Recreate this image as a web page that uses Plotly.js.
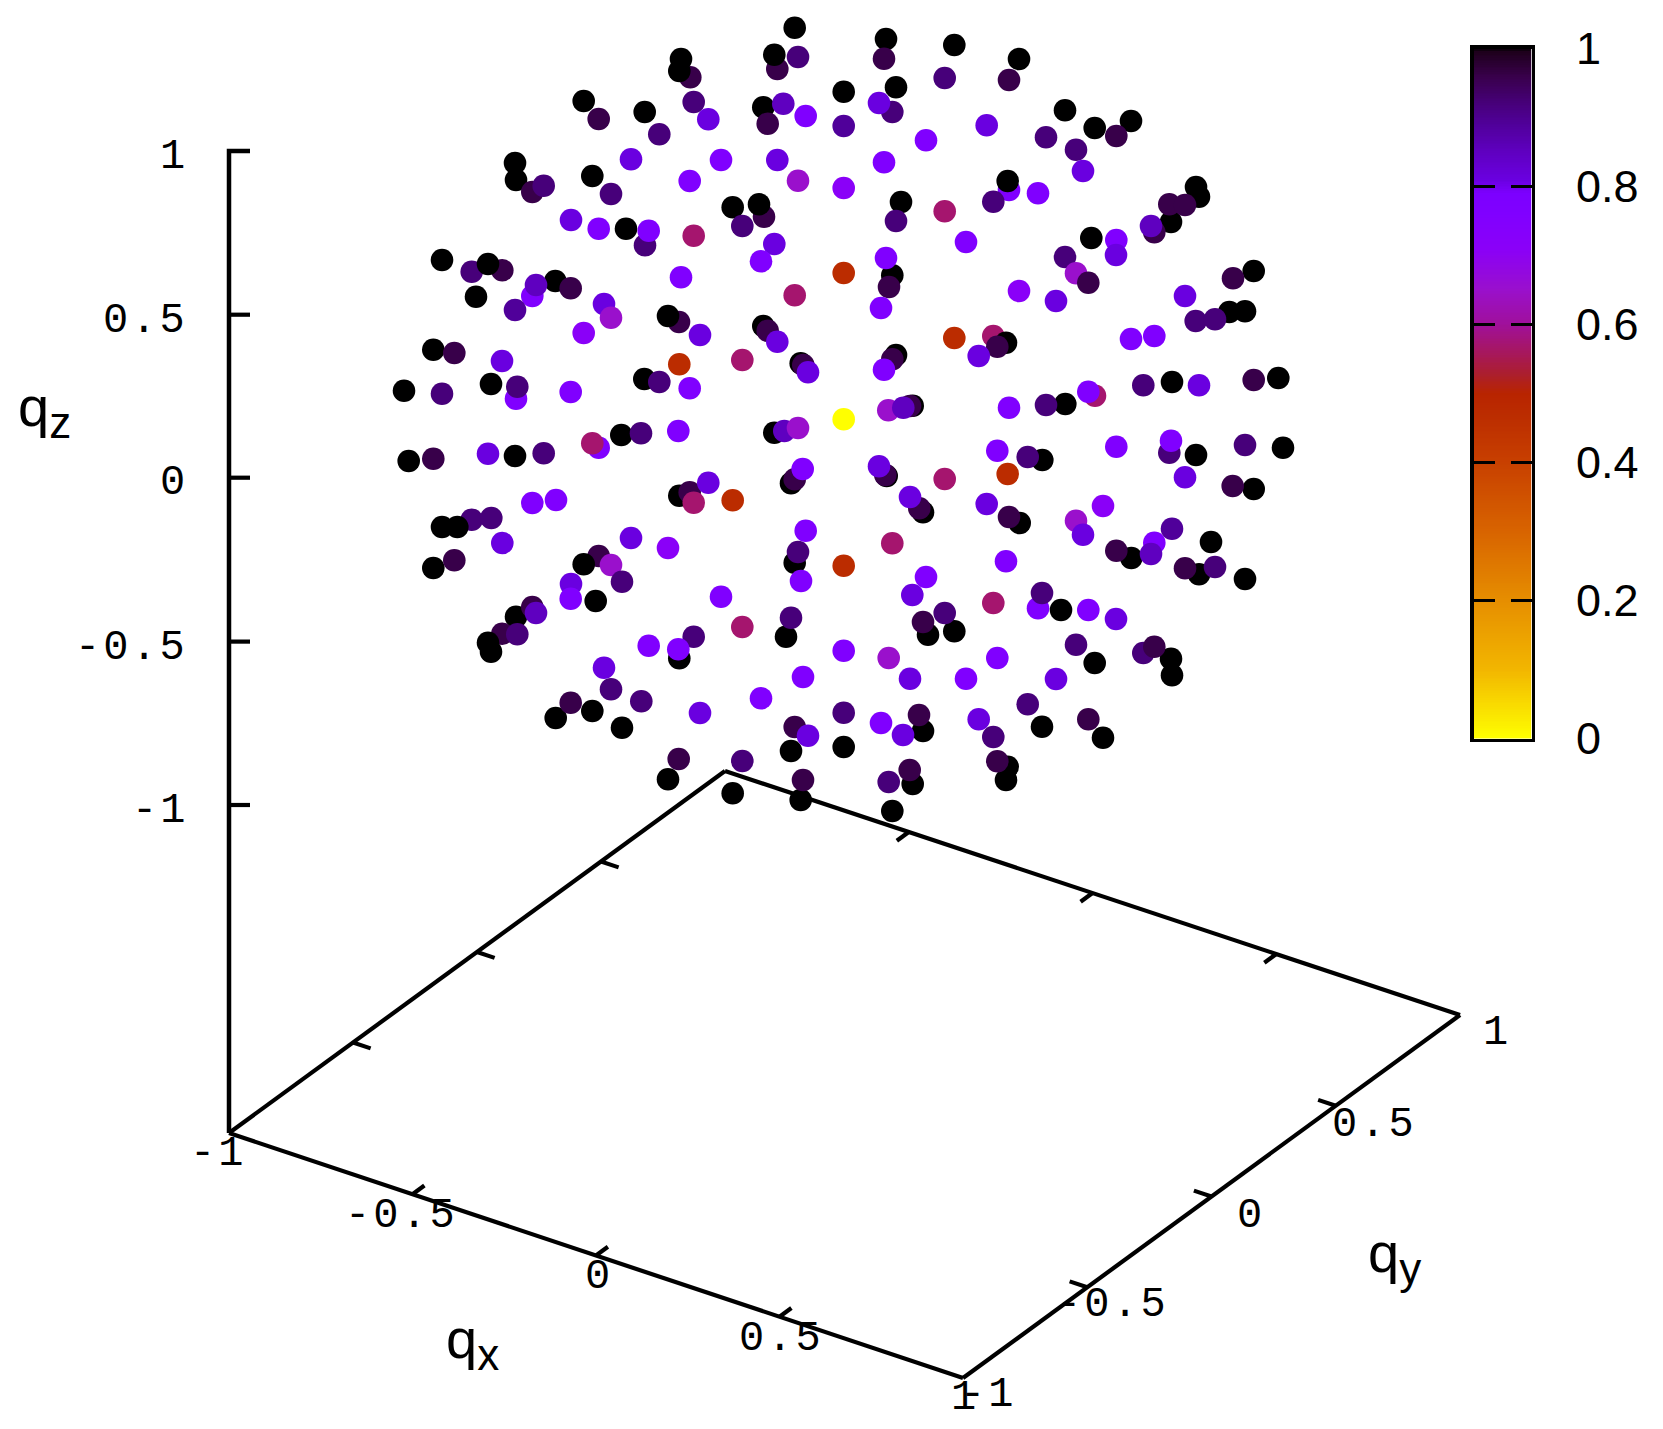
<!DOCTYPE html>
<html>
<head>
<meta charset="utf-8">
<script src="https://cdn.plot.ly/plotly-3.0.1.min.js"></script>
<style>html,body{margin:0;padding:0;background:#fff}#chart{width:1663px;height:1429px}</style>
</head>
<body>
<div id="chart"></div>
<script>
// Projected position of each q-point on the picture plane, grouped by colour value, in drawing order.
const lowDark=[[598.7,556]];
const lowBlack=[[583.7,564.3]];
const lowIndigo=[[1065,257],[1143.3,653]];
const lowRose=[[993.3,336],[1095,395.7]];
const lowMagenta=[[611,565],[888.3,410.3],[1076,273.3],[1076,520.7]];
const lowViolet=[[1009,190],[532.3,296],[516,398.7],[1116.3,240],[1154.3,542.7],[1038,608.3]];
const blackPts=[[794.7,27.7],[763.3,107.3],[583.7,101],[644.7,112],[515,163],[516,180],[592.3,176],[626,228.7],[732.7,207.3],[442,260],[476,296.7],[555.3,281],[763.3,326],[644.3,379],[433.3,349.7],[404,390.7],[491,384],[800.7,363.3],[621.3,435],[774.3,432.7],
[886,39],[954.3,45],[1019,59],[843.7,91.7],[896,87.3],[1065,110.3],[1094.7,128],[1131,121],[901,202],[1196,187],[1199,196.7],[1171,222],[1091.3,238],[892.3,275.3],[1253.7,271],[1229.3,312],[1245,311.3],[1006,342.7],[896,355],[1278.3,378],[1172,382],[1065.3,404],[912.7,405.7],
[408.7,461],[515,456],[791,483.3],[679.3,495.7],[442,527],[433.3,568],[794.7,562.7],[595.7,601],[786,636.7],[516,616.7],[679.3,658.3],[555.7,718],[592.3,711],[622,727.7],[791,751],[668,779.3],[732.7,793.3],[800.7,800],
[1042.3,460],[1196,455],[1283,447.7],[1253.7,489],[886.7,476],[923,512.3],[1019.7,523],[1131.3,558],[1211,542],[1199,574.3],[1245,579],[928,634.7],[954.3,631.3],[1061,610],[1094.7,663],[1171,658.7],[1172,675.3],[923,731],[1042,726.7],[1103,737.7],[843.7,747],[912.7,784],[1007.7,766.7],[1006,780],[892.3,811]];
const darkPts=[[777.3,69],[690.3,77.3],[767.7,123.7],[598.7,119],[532.3,192],[764,216.7],[502.3,270.3],[570.7,288.3],[679,322],[767.7,330.7],[454.3,353],[803.3,365],
[884,58.7],[1009,80],[1116.3,136],[1169.3,204.3],[1185,205],[1154.3,232.3],[1088.3,282.7],[889,287],[1233,278.3],[997.3,346.7],[892.3,359.3],[1253.7,380],[910,406],
[433.3,458.7],[794.7,479.3],[689.7,492.3],[454.3,560.3],[532.3,607],[502.3,633.7],[570.7,702.7],[794.7,727],[678.7,759],[803,780],
[1232.7,486],[885.3,475],[919.3,508.3],[1009,517],[1116.3,550.7],[1185,568.3],[923,622],[1154.3,646.7],[919,715],[1088.3,719.3],[909.7,770],[997.3,761.3]];
const indigoPts=[[798,57],[693.7,102],[659.3,134.3],[543.7,185.7],[611,194],[645,245.3],[742.3,226],[471.7,271.7],[659.3,382],[442,393.7],[517.3,386.7],[641,433.3],
[944.7,78],[892.3,112],[1046,137.3],[1076,149.7],[993.3,201.7],[896,221],[1195.7,321],[1215,319.3],[1143.3,385.3],[1046,405],
[543.7,453.3],[471.7,519.7],[491.3,518],[798,552],[622,581.7],[791,617.7],[517.3,634.3],[693.7,636.7],[611,689.3],[641.3,701.3],[742.3,761],
[1027.7,457],[1169.3,452.7],[1245,445],[1215,567],[944.7,613],[1042,593],[1076,644.7],[843.7,712.7],[993.3,737],[1027.7,704.3],[888.7,782]];
const indigoLightPts=[[515,310],[843.7,126],[1172,528.7]];
const blackTopPts=[[774.3,54.7],[681,59],[679.3,71],[488,264],[668,316],[759,204.3],[1007.7,181],[457.3,527],[488,642.7],[491,651.7]];
const deepVioletPts=[[783.3,103.7],[536,285],[784.3,431],[1151,226],[903.3,407.7],[536,613],[1151,554]];
const violetPts=[[708.3,119.3],[631,159.3],[777.3,160],[571,220],[774.3,244],[604,304],[700,335],[777.3,341.7],[502,361],[808,372.3],
[879,103],[986.7,125.3],[1083,171],[1116,255],[1056,301],[1185,296],[978.7,356],[1199,385.3],
[488,453.7],[708.3,482.7],[502.3,543],[631,538],[571,584],[604,667.7],[700,713],[808,735.7],
[1185,477.3],[879,466.3],[910,497],[986.7,504],[1083,534.7],[912.3,595],[1116,619],[910,678.7],[1056,679],[903,735],[978.7,719.3]];
const brightPts=[[721,160],[689.7,181],[598.7,228.7],[648.7,230.7],[761,261.3],[681,277.3],[689.7,388.3],[570.7,392],[678.3,431],[805.7,116],
[926,140.3],[884,162.3],[1038,193.3],[966,242],[886,258],[881,308],[1131,339],[1154.3,336],[884,369.7],[1088.3,391.7],[1009,407.7],
[532.3,503],[556,500],[805.7,530.7],[801,581],[570.7,598.7],[721,596.7],[648.7,645.7],[678.3,649.3],[803,677],[761,698.3],[598.7,447.7],[802.7,469],
[997.3,450.7],[1116.3,446.7],[1171,440.7],[926,577],[1006,561.3],[1088.3,610],[843.7,650.7],[966,678.7],[997.3,658],[881,723]];
const purplePts=[[583.7,333],[843.7,188],[1019,291],[668,548],[1103,506]];
const magentaPts=[[798,180.7],[611,317.7],[798,428],[888.7,658]];
const rosePts=[[693.7,235.7],[794.7,295.3],[742.3,360],[944.7,211.3],[592.3,443.3],[693.7,502.7],[742.3,627],[944.7,479],[892.3,543.3],[993.3,603]];
const orangePts=[[679.3,364.3],[843.7,273],[954.3,338],[732.7,500.3],[1007.7,474],[843.7,565.7]];
const yellowPts=[[843.7,419.3]];

const groups=[[lowDark,0.96],[lowBlack,1],[lowIndigo,0.92],[lowRose,0.57],[lowMagenta,0.65],[lowViolet,0.76],
[blackPts,1],[darkPts,0.96],[indigoPts,0.92],[indigoLightPts,0.89],[blackTopPts,1],[deepVioletPts,0.85],[violetPts,0.81],
[brightPts,0.76],[purplePts,0.71],[magentaPts,0.65],[rosePts,0.57],[orangePts,0.47],[yellowPts,0]];

const paletteStops=[[0,'#ffff00'],[0.1,'#f2b600'],[0.2,'#e68e00'],[0.3,'#d86400'],[0.4,'#c84000'],[0.47,'#bb2c00'],[0.5,'#b82400'],[0.53,'#ab1e30'],[0.57,'#a5156e'],[0.6,'#a0109a'],[0.65,'#9a10cc'],[0.71,'#8a00f8'],[0.76,'#8000ff'],[0.79,'#7c00ff'],[0.81,'#6a00e0'],[0.85,'#5f00c0'],[0.89,'#50009a'],[0.92,'#47007a'],[0.96,'#38004a'],[0.995,'#1e001c'],[1,'#000000']];

// Base frame and vertical axis of the 3D box, as projected on the picture plane.
const cornerFront=[229,1133], cornerBack=[725,771], cornerRight=[1460,1015], cornerBottom=[963,1378];
const zAxisX=[250,229,229], zAxisY=[151,151,1133];
const zTickY=[314.7,477.7,641.6,805];
const tickFractions=[0.25,0.5,0.75];
const tickShare=0.024;

const mono='"Liberation Mono", monospace';
const sans='"Liberation Sans", Arial, sans-serif';
const zLabels=[['1',156.5],['0.5',320.5],['0',482.5],['-0.5',648],['-1',811]];
const floorLabels=[['-1',218,1154],['-0.5',401,1216],['0',599,1276.5],['0.5',781.5,1338.5],['1',965,1398],
['-1',988,1395],['-0.5',1112,1305],['0',1251,1215.5],['0.5',1374.5,1124.5],['1',1497,1033]];
const axisTitles=[['z',44,411],['x',472,1343],['y',1394,1257]];
const barTickVals=[0,0.2,0.4,0.6,0.8,1];
const barTickText=['0','0.2','0.4','0.6','0.8','1'];

const W=1663,H=1429;
const px=[],py=[],pv=[];
groups.forEach(([pts,v])=>pts.forEach(p=>{px.push(p[0]);py.push(p[1]);pv.push(v);}));

const lx=[],ly=[];
function seg(a,b){lx.push(a[0],b[0],null);ly.push(a[1],b[1],null);}
function lerp(a,b,t){return [a[0]+(b[0]-a[0])*t,a[1]+(b[1]-a[1])*t];}
seg(cornerFront,cornerBack);seg(cornerBack,cornerRight);seg(cornerRight,cornerBottom);seg(cornerBottom,cornerFront);
tickFractions.forEach(t=>{
  const ux=[(cornerBack[0]-cornerFront[0])*tickShare,(cornerBack[1]-cornerFront[1])*tickShare];
  const uy=[(cornerBottom[0]-cornerFront[0])*tickShare,(cornerBottom[1]-cornerFront[1])*tickShare];
  let a=lerp(cornerFront,cornerBottom,t);seg(a,[a[0]+ux[0],a[1]+ux[1]]);
  a=lerp(cornerBack,cornerRight,t);seg(a,[a[0]-ux[0],a[1]-ux[1]]);
  a=lerp(cornerBottom,cornerRight,t);seg(a,[a[0]-uy[0],a[1]-uy[1]]);
  a=lerp(cornerFront,cornerBack,t);seg(a,[a[0]+uy[0],a[1]+uy[1]]);
});
zTickY.forEach(y=>{lx.push(229,250,null);ly.push(y,y,null);});

const ramp=[];for(let i=0;i<=400;i++)ramp.push(i/400);

const spaced=s=>'<span style="letter-spacing:3px">'+s+'</span>';
const annotations=[];
zLabels.forEach(([t,y])=>annotations.push({x:190,y:y,xref:'x',yref:'y',text:spaced(t),showarrow:false,xanchor:'right',yanchor:'middle',font:{family:mono,size:42,color:'#000'}}));
floorLabels.forEach(([t,x,y])=>annotations.push({x:x,y:y,xref:'x',yref:'y',text:spaced(t),showarrow:false,xanchor:'center',yanchor:'middle',font:{family:mono,size:42,color:'#000'}}));
axisTitles.forEach(([t,x,y])=>annotations.push({x:x,y:y,xref:'x',yref:'y',text:'q<sub><span style="font-size:44px">'+t+'</span></sub>',showarrow:false,xanchor:'center',yanchor:'middle',font:{family:sans,size:56,color:'#000'}}));

const traces=[
 {type:'scatter',mode:'lines',x:zAxisX,y:zAxisY,line:{color:'#000',width:4.5,shape:'linear'},xaxis:'x',yaxis:'y',hoverinfo:'skip',showlegend:false},
 {type:'scatter',mode:'lines',x:lx,y:ly,line:{color:'#000',width:4.2},xaxis:'x',yaxis:'y',hoverinfo:'skip',showlegend:false},
 {type:'scatter',mode:'markers',x:px,y:py,marker:{size:22.6,color:pv,cmin:0,cmax:1,colorscale:paletteStops,showscale:false,line:{width:0}},cliponaxis:false,xaxis:'x',yaxis:'y',hoverinfo:'skip',showlegend:false},
 {type:'heatmap',x:[0],y:ramp,z:ramp.map(v=>[v]),zmin:0,zmax:1,colorscale:paletteStops,showscale:false,xaxis:'x2',yaxis:'y2',hoverinfo:'skip'}
];
const layout={
 width:W,height:H,margin:{l:0,r:0,t:0,b:0,pad:0},paper_bgcolor:'#fff',plot_bgcolor:'rgba(0,0,0,0)',showlegend:false,hovermode:false,
 xaxis:{domain:[0,1],range:[0,W],visible:false,fixedrange:true},
 yaxis:{domain:[0,1],range:[H,0],visible:false,fixedrange:true},
 xaxis2:{domain:[1473.5/W,1531.5/W],range:[-0.5,0.5],anchor:'y2',showline:true,linecolor:'#000',linewidth:3.5,mirror:true,ticks:'',showticklabels:false,showgrid:false,zeroline:false,fixedrange:true},
 yaxis2:{domain:[1-738.5/H,1-48.5/H],range:[0,1],anchor:'x2',side:'right',showline:true,linecolor:'#000',linewidth:3.5,mirror:'ticks',ticks:'inside',ticklen:21,tickwidth:2.5,tickcolor:'#000',tickvals:barTickVals,ticktext:barTickText,ticklabelstandoff:32,tickfont:{family:sans,size:45,color:'#000'},showgrid:false,zeroline:false,fixedrange:true},
 annotations:annotations
};
Plotly.newPlot('chart',traces,layout,{displayModeBar:false,staticPlot:true});
</script>
</body>
</html>
